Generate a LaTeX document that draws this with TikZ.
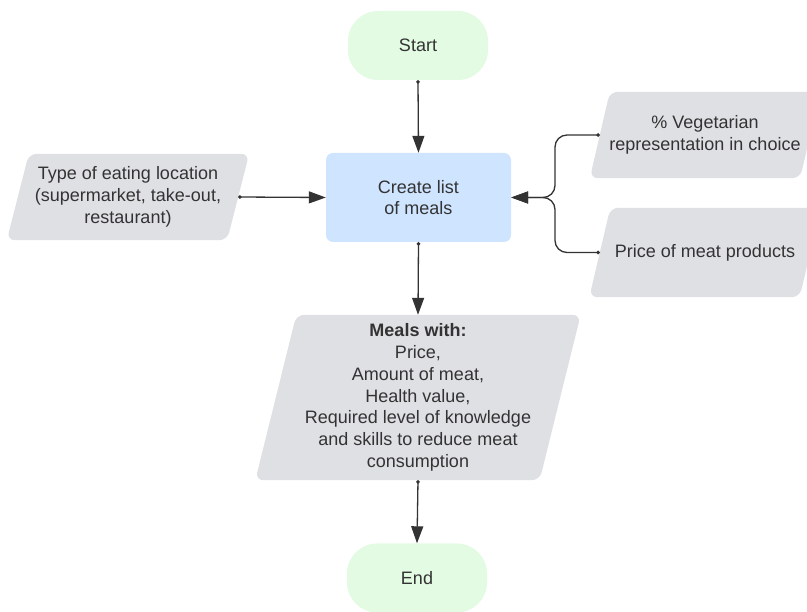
\documentclass[tikz,border=0pt]{standalone}
\usepackage{fontspec}
\setmainfont{Liberation Sans}
\usetikzlibrary{arrows.meta,backgrounds}

\definecolor{termfill}{HTML}{E3FAE3}
\definecolor{procfill}{HTML}{CFE4FF}
\definecolor{datafill}{HTML}{DFE0E4}
\definecolor{inkgray}{HTML}{333333}

\tikzset{
  base/.style={inner sep=0pt, align=center, text=inkgray,
    font=\fontsize{18pt}{21.8pt}\selectfont},
  terminal/.style={base, rectangle, fill=termfill, rounded corners=30pt,
    minimum width=140pt, minimum height=69pt},
  process/.style={base, rectangle, fill=procfill, rounded corners=7pt,
    minimum width=185pt, minimum height=89pt},
  databox/.style 2 args={base, rectangle, minimum width=#1, minimum height=#2},
  conn/.style={draw=inkgray, line width=1.3pt,
    {Circle[length=3.5pt]}-{Triangle[length=17pt,width=12pt]}},
}

% slanted (data) shape drawn behind a named node: name, half of the skew
\newcommand\slantfill[2]{%
  \fill[datafill, rounded corners=8pt]
    ([xshift=#2]#1.north west) -- ([xshift=#2]#1.north east) --
    ([xshift=-#2]#1.south east) -- ([xshift=-#2]#1.south west) -- cycle;}

\begin{document}
\begin{tikzpicture}[x=1pt, y=-1pt]
  \useasboundingbox (0,0) rectangle (807,612);

  \node[terminal] (start) at (418,45.5) {Start};
  \node[process]  (create) at (418.5,197.5) {Create list\\of meals};
  \node[databox={220pt}{86pt}] (loc) at (128,197)
    {Type of eating location\\(supermarket, take-out,\\restaurant)};
  \node[databox={210pt}{86pt}] (veg) at (705,135)
    {\% Vegetarian\\representation in choice};
  \node[databox={210pt}{89pt}] (price) at (705,252.5)
    {Price of meat products};
  \node[databox={284pt}{165pt}] (meals) at (418,397.5)
    {\textbf{Meals with:}\\Price,\\Amount of meat,\\Health value,\\%
     Required level of knowledge\\and skills to reduce meat\\consumption};
  \node[terminal] (end) at (417,578) {End};

  \begin{scope}[on background layer]
    \slantfill{loc}{11pt}
    \slantfill{veg}{10pt}
    \slantfill{price}{10.5pt}
    \slantfill{meals}{20.5pt}
  \end{scope}

  \coordinate (join) at (555,197.5);

  \draw[conn] (start.south) -- (create.north);
  \draw[conn] (create.south) -- (meals.north);
  \draw[conn] (meals.south) -- (end.north);
  \draw[conn] (loc.east) -- (create.west);
  \draw[conn, rounded corners=12pt] (veg.west) -| (join) -- (create.east);
  \draw[conn, rounded corners=12pt] (price.west) -| (join) -- (create.east);
\end{tikzpicture}
\end{document}
